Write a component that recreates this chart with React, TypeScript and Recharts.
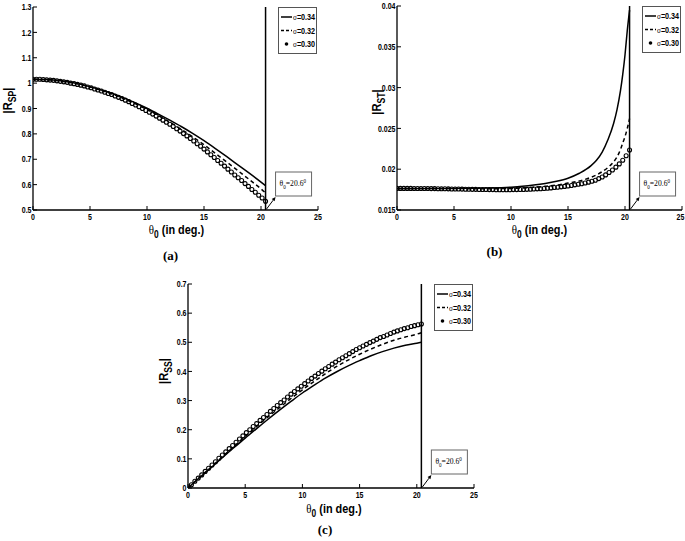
import React from 'react';
import { LineChart, Line, XAxis, YAxis, ReferenceLine, Label } from 'recharts';

// ---------- data ----------
const xTicks = [0, 5, 10, 15, 20, 25];
const criticalTheta = 20.4;

// theta values where the sigma=0.30 markers are drawn
const thetaMarkers = [
  0, 0.3, 0.6, 0.9, 1.2, 1.5, 1.8, 2.1, 2.4, 2.7, 3.0, 3.3, 3.6, 3.9, 4.2, 4.5, 4.8, 5.1, 5.4, 5.7,
  6.0, 6.3, 6.6, 6.9, 7.2, 7.5, 7.8, 8.1, 8.4, 8.7, 9.0, 9.3, 9.6, 9.9, 10.2, 10.5, 10.8, 11.1, 11.4, 11.7,
  12.0, 12.3, 12.6, 12.9, 13.2, 13.5, 13.8, 14.1, 14.4, 14.7, 15.0, 15.3, 15.6, 15.9, 16.2, 16.5, 16.8, 17.1, 17.4, 17.7,
  18.0, 18.3, 18.6, 18.9, 19.2, 19.5, 19.8, 20.1, 20.4,
];

// theta values for the continuous curves
const thetaLine = [0, 1, 2, 3, 4, 5, 6, 7, 8, 9, 10, 11, 12, 13, 14, 15, 16, 17, 18, 19, 20, 20.4];
const thetaLineB = [0, 2, 4, 6, 8, 10, 11, 12, 13, 14, 15, 16, 17, 17.5, 18, 18.5, 19, 19.3, 19.6, 19.8, 20, 20.2, 20.4];

// (a) |R_SP|
const rspSigma034 = [1.015, 1.014, 1.011, 1.005, 0.997, 0.986, 0.973, 0.958, 0.941, 0.922, 0.901, 0.878, 0.854, 0.829, 0.802, 0.773, 0.742, 0.710, 0.677, 0.644, 0.610, 0.596];
const rspSigma032 = [1.015, 1.014, 1.010, 1.004, 0.996, 0.985, 0.971, 0.956, 0.938, 0.918, 0.896, 0.872, 0.846, 0.818, 0.789, 0.757, 0.723, 0.689, 0.654, 0.619, 0.583, 0.567];
const rspSigma030 = [
  1.015, 1.015, 1.015, 1.014, 1.013, 1.012, 1.011, 1.009, 1.007, 1.005, 1.003, 1.000, 0.998, 0.995, 0.992, 0.989, 0.985, 0.982, 0.977, 0.973,
  0.969, 0.964, 0.959, 0.955, 0.949, 0.944, 0.939, 0.933, 0.927, 0.920, 0.914, 0.907, 0.900, 0.892, 0.885, 0.878, 0.870, 0.862, 0.854, 0.846,
  0.838, 0.829, 0.820, 0.811, 0.801, 0.792, 0.782, 0.772, 0.761, 0.751, 0.740, 0.729, 0.718, 0.707, 0.695, 0.684, 0.673, 0.661, 0.650, 0.638,
  0.627, 0.616, 0.604, 0.593, 0.581, 0.570, 0.558, 0.547, 0.534,
];

// (b) |R_ST|
const rstSigma034 = [0.01765, 0.01765, 0.01765, 0.01766, 0.01770, 0.01780, 0.01790, 0.01805, 0.01825, 0.01852, 0.01890, 0.01950, 0.02040, 0.02110, 0.02210, 0.02360, 0.02560, 0.02730, 0.02960, 0.03160, 0.03400, 0.03700, 0.03950];
const rstSigma032 = [0.01765, 0.01765, 0.01764, 0.01762, 0.01761, 0.01765, 0.01770, 0.01778, 0.01790, 0.01805, 0.01830, 0.01855, 0.01900, 0.01930, 0.01970, 0.02020, 0.02090, 0.02150, 0.02240, 0.02320, 0.02400, 0.02500, 0.02620];
const rstSigma030 = [
  0.01765, 0.01765, 0.01765, 0.01765, 0.01765, 0.01764, 0.01764, 0.01764, 0.01763, 0.01763, 0.01762, 0.01762, 0.01761, 0.01760, 0.01760, 0.01759, 0.01758, 0.01757, 0.01757, 0.01756,
  0.01755, 0.01754, 0.01753, 0.01753, 0.01752, 0.01751, 0.01751, 0.01750, 0.01750, 0.01749, 0.01749, 0.01749, 0.01749, 0.01749, 0.01750, 0.01750, 0.01751, 0.01752, 0.01753, 0.01755,
  0.01757, 0.01759, 0.01761, 0.01764, 0.01767, 0.01771, 0.01775, 0.01779, 0.01784, 0.01789, 0.01795, 0.01801, 0.01808, 0.01815, 0.01822, 0.01831, 0.01841, 0.01852, 0.01865, 0.01885,
  0.01905, 0.01930, 0.01960, 0.01990, 0.02025, 0.02065, 0.02110, 0.02165, 0.02235,
];

// (c) |R_SS|
const rssSigma034 = [0, 0.035, 0.069, 0.104, 0.138, 0.171, 0.204, 0.236, 0.267, 0.297, 0.326, 0.352, 0.377, 0.399, 0.419, 0.437, 0.454, 0.468, 0.480, 0.490, 0.497, 0.500];
const rssSigma032 = [0, 0.036, 0.071, 0.107, 0.142, 0.177, 0.211, 0.244, 0.276, 0.307, 0.337, 0.365, 0.392, 0.417, 0.439, 0.459, 0.477, 0.493, 0.507, 0.518, 0.528, 0.533];
const rssSigma030 = [
  0, 0.011, 0.023, 0.034, 0.045, 0.057, 0.068, 0.079, 0.090, 0.102, 0.113, 0.124, 0.135, 0.146, 0.157, 0.168, 0.179, 0.190, 0.200, 0.211,
  0.221, 0.232, 0.242, 0.252, 0.263, 0.273, 0.283, 0.293, 0.302, 0.312, 0.322, 0.331, 0.340, 0.349, 0.358, 0.367, 0.376, 0.384, 0.393, 0.401,
  0.409, 0.417, 0.425, 0.432, 0.440, 0.447, 0.454, 0.461, 0.468, 0.475, 0.481, 0.487, 0.493, 0.499, 0.504, 0.510, 0.516, 0.520, 0.525, 0.530,
  0.535, 0.539, 0.543, 0.547, 0.550, 0.554, 0.557, 0.560, 0.563,
];

const legendLabels = ['0.34', '0.32', '0.30'];
const yTicksA = [0.5, 0.6, 0.7, 0.8, 0.9, 1, 1.1, 1.2, 1.3];
const yTicksB = [0.015, 0.02, 0.025, 0.03, 0.035, 0.04];
const yTicksC = [0, 0.1, 0.2, 0.3, 0.4, 0.5, 0.6, 0.7];

// ---------- styling ----------
const SANS = "'Liberation Sans', Arial, sans-serif";
const SERIF = "'Liberation Serif', 'Times New Roman', serif";

const zip = (xs: number[], ys: number[]) => xs.map((x, i) => ({ x, y: ys[i] }));

const EmptyTick = () => <g />;

// condensed bold tick label (MATLAB-like)
const NarrowTick = (props: any) => {
  const { x, y, payload, textAnchor, verticalAnchor, maxX } = props;
  const s = String(payload.value);
  const len = s.split('').reduce((a, c) => a + (c === '.' ? 2 : 4), 0);
  const dy = verticalAnchor === 'start' ? 6.5 : 3.2;
  let tx = x;
  if (maxX != null && textAnchor === 'middle' && x + len / 2 > maxX) tx = maxX - len / 2;
  return (
    <g transform={`translate(${tx},${y + dy}) scale(0.78,1)`}>
      <text x={0} y={0} textAnchor={textAnchor} fontFamily={SANS} fontWeight={700} fontSize={9} fill="#000">
        {s}
      </text>
    </g>
  );
};

function makeXLabel(caption: string, lblDx: number, lblDy: number, capDx: number, capDy: number) {
  return (props: any) => {
    const vb = props.viewBox || {};
    const cx = vb.x + vb.width / 2;
    const y = vb.y;
    return (
      <g>
        <g transform={`translate(${cx + lblDx},${y + lblDy}) scale(0.84,1)`}>
          <text x={0} y={0} textAnchor="middle" fill="#000">
            <tspan fontFamily={SERIF} fontSize={13}>θ</tspan>
            <tspan fontFamily={SANS} fontWeight={700} fontSize={10} dy={4}>0</tspan>
            <tspan fontFamily={SANS} fontWeight={700} fontSize={13} dy={-4}> (in deg.)</tspan>
          </text>
        </g>
        <text x={cx + capDx} y={y + capDy} textAnchor="middle" fontFamily={SERIF} fontWeight={700} fontSize={13} fill="#000">
          {caption}
        </text>
      </g>
    );
  };
}

function makeYLabel(sub: string, dx: number, dy: number) {
  return (props: any) => {
    const vb = props.viewBox || {};
    const cx = vb.x + dx;
    const cy = vb.y + vb.height / 2 + dy;
    return (
      <text transform={`translate(${cx},${cy}) rotate(-90) scale(0.86,1)`} textAnchor="middle" fontFamily={SANS} fontWeight={700} fontSize={13} fill="#000">
        |R<tspan fontSize={10} dy={4}>{sub}</tspan><tspan dy={-4}>|</tspan>
      </text>
    );
  };
}

const CriticalAnnotation = (props: any) => {
  const vb = props.viewBox || {};
  const x = vb.x;
  const b = vb.y + vb.height;
  const tipX = x + 10;
  const tipY = b - 13;
  const dxv = tipX - (x + 1);
  const dyv = tipY - (b - 1);
  const len = Math.sqrt(dxv * dxv + dyv * dyv);
  const ux = dxv / len;
  const uy = dyv / len;
  const bx = tipX - ux * 4;
  const by = tipY - uy * 4;
  const px = -uy * 1.8;
  const py = ux * 1.8;
  return (
    <g>
      <line x1={x + 1} y1={b - 1} x2={bx} y2={by} stroke="#000" strokeWidth={1} />
      <polygon points={`${tipX},${tipY} ${bx + px},${by + py} ${bx - px},${by - py}`} fill="#000" />
      <rect x={x + 10} y={b - 38} width={36} height={24} fill="#fff" stroke="#666" strokeWidth={1} />
      <g transform={`translate(${x + 14},${b - 24}) scale(0.85,1)`}>
        <text x={0} y={0} fontFamily={SERIF} fontSize={9} fill="#000">
          θ<tspan fontSize={6} dy={3}>0</tspan><tspan dy={-3}>=20.6</tspan><tspan fontSize={6} dy={-3}>0</tspan>
        </text>
      </g>
    </g>
  );
};

const LegendBox = ({ left, top }: { left: number; top: number }) => (
  <svg width={40} height={48} style={{ position: 'absolute', left, top, overflow: 'visible' }}>
    <rect x={0.5} y={0.5} width={38} height={46} fill="#fff" stroke="#555" strokeWidth={1} />
    {legendLabels.map((lab, i) => {
      const y = 10 + i * 13.5;
      return (
        <g key={lab}>
          {i === 0 && <line x1={3} y1={y} x2={14} y2={y} stroke="#000" strokeWidth={1.5} />}
          {i === 1 && <line x1={3} y1={y} x2={14} y2={y} stroke="#000" strokeWidth={1.5} strokeDasharray="3 2" />}
          {i === 2 && <circle cx={8.5} cy={y} r={1.8} fill="#000" />}
          <g transform={`translate(15,${y + 3}) scale(0.8,1)`}>
            <text x={0} y={0} fill="#000">
              <tspan fontFamily={SERIF} fontSize={9}>σ</tspan>
              <tspan fontFamily={SANS} fontWeight={700} fontSize={9}>={lab}</tspan>
            </text>
          </g>
        </g>
      );
    })}
  </svg>
);

type PanelProps = {
  left: number; top: number; width: number; height: number;
  margin: { top: number; right: number; bottom: number; left: number };
  yWidth: number; yDomain: [number, number]; yTicks: number[];
  lineX: number[]; s034: number[]; s032: number[]; s030: number[];
  sub: string; caption: string; yLabelDx: number; yLabelDy: number;
  lblDx: number; lblDy: number; capDx: number; capDy: number;
};

function Panel(p: PanelProps) {
  const axisLine = { stroke: '#000', strokeWidth: 1.3 };
  const tickLine = { stroke: '#000', strokeWidth: 1 };
  const plotRight = p.width - p.margin.right;
  return (
    <div style={{ position: 'absolute', left: p.left, top: p.top, width: p.width, height: p.height }}>
      <LineChart width={p.width} height={p.height} margin={p.margin}>
        <XAxis xAxisId="b" type="number" dataKey="x" domain={[0, 25]} ticks={xTicks} interval={0} allowDataOverflow
          height={30} tickSize={-4} tickMargin={7} axisLine={axisLine} tickLine={tickLine} tick={<NarrowTick maxX={p.width - 0.5} />}>
          <Label content={makeXLabel(p.caption, p.lblDx, p.lblDy, p.capDx, p.capDy)} />
        </XAxis>
        <XAxis xAxisId="t" orientation="top" type="number" dataKey="x" domain={[0, 25]} ticks={xTicks} interval={0} allowDataOverflow
          height={0} tickSize={-4} axisLine={axisLine} tickLine={tickLine} tick={EmptyTick} />
        <YAxis yAxisId="l" type="number" domain={p.yDomain} ticks={p.yTicks} interval={0} allowDataOverflow
          width={p.yWidth} tickSize={-4} tickMargin={5.5} axisLine={axisLine} tickLine={tickLine} tick={<NarrowTick />}>
          <Label content={makeYLabel(p.sub, p.yLabelDx, p.yLabelDy)} />
        </YAxis>
        <YAxis yAxisId="r" orientation="right" type="number" domain={p.yDomain} ticks={p.yTicks} interval={0} allowDataOverflow
          width={0} tickSize={-4} axisLine={axisLine} tickLine={tickLine} tick={EmptyTick} />
        <Line xAxisId="b" yAxisId="l" data={zip(p.lineX, p.s034)} dataKey="y" type="monotone" stroke="#000" strokeWidth={1.5}
          dot={false} activeDot={false} isAnimationActive={false} name="σ=0.34" />
        <Line xAxisId="b" yAxisId="l" data={zip(p.lineX, p.s032)} dataKey="y" type="monotone" stroke="#000" strokeWidth={1.5}
          strokeDasharray="4 3" dot={false} activeDot={false} isAnimationActive={false} name="σ=0.32" />
        <Line xAxisId="b" yAxisId="l" data={zip(thetaMarkers, p.s030)} dataKey="y" stroke="none"
          dot={{ r: 2, stroke: '#000', strokeWidth: 1.1, fill: 'none' }} activeDot={false} isAnimationActive={false} name="σ=0.30" />
        <ReferenceLine xAxisId="b" yAxisId="l" x={criticalTheta} stroke="#000" strokeWidth={1.5} label={<CriticalAnnotation />} />
      </LineChart>
      <LegendBox left={plotRight - 40} top={p.margin.top} />
    </div>
  );
}

export default function App() {
  return (
    <div style={{ position: 'absolute', left: 0, top: 0, width: 685, height: 541, background: '#fff' }}>
      <Panel left={0} top={0} width={340} height={270} margin={{ top: 7, right: 22, bottom: 30, left: 0 }}
        yWidth={33} yDomain={[0.5, 1.3]} yTicks={yTicksA}
        lineX={thetaLine} s034={rspSigma034} s032={rspSigma032} s030={rspSigma030}
        sub="SP" caption="(a)" yLabelDx={12} yLabelDy={-8} lblDx={1} lblDy={24} capDx={-5} capDy={50} />
      <Panel left={340} top={0} width={345} height={270} margin={{ top: 6, right: 3, bottom: 30, left: 0 }}
        yWidth={57} yDomain={[0.015, 0.04]} yTicks={yTicksB}
        lineX={thetaLineB} s034={rstSigma034} s032={rstSigma032} s030={rstSigma030}
        sub="ST" caption="(b)" yLabelDx={41} yLabelDy={-6} lblDx={0} lblDy={24} capDx={-45} capDy={46} />
      <Panel left={150} top={270} width={340} height={271} margin={{ top: 14, right: 16, bottom: 23, left: 0 }}
        yWidth={38} yDomain={[0, 0.7]} yTicks={yTicksC}
        lineX={thetaLine} s034={rssSigma034} s032={rssSigma032} s030={rssSigma030}
        sub="SS" caption="(c)" yLabelDx={18} yLabelDy={-15} lblDx={3} lblDy={25} capDx={-6} capDy={46} />
    </div>
  );
}
